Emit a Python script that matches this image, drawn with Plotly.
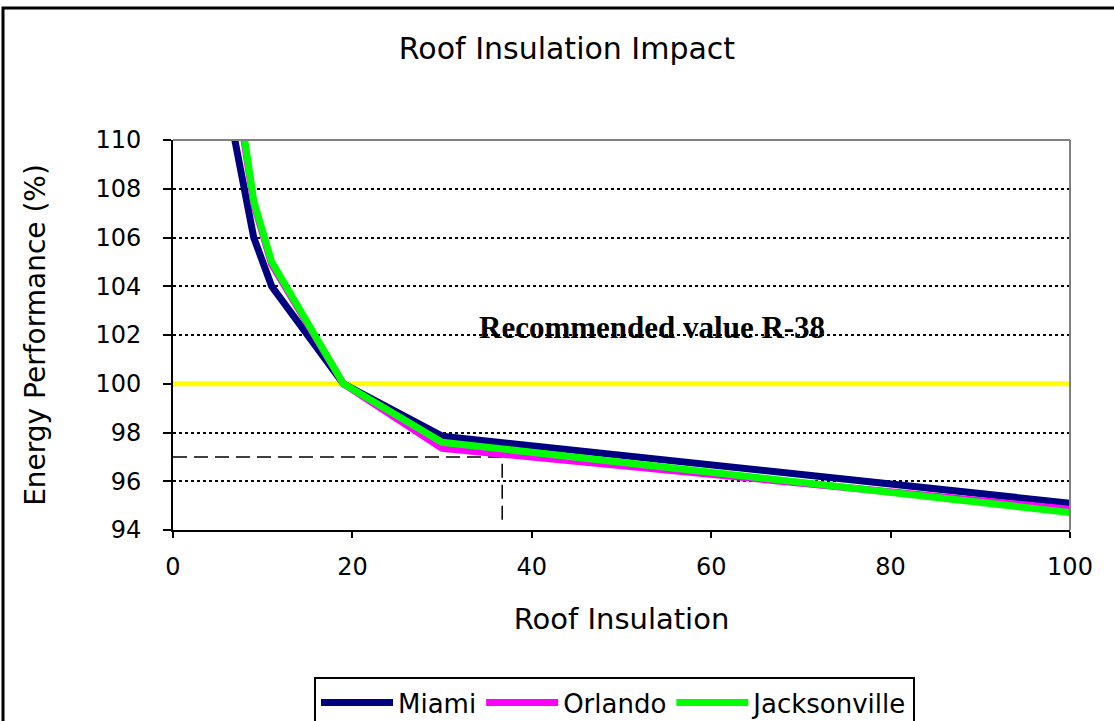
import plotly.graph_objects as go

# ---- data ----
r_values = [5, 9, 11, 19, 30, 100]
miami = [113.6, 106.0, 104.0, 100.0, 97.85, 95.1]
orlando = [117.0, 107.4, 104.9, 100.0, 97.35, 94.85]
jacksonville = [117.5, 107.5, 105.0, 100.0, 97.6, 94.72]
baseline_value = 100
ref_x = 36.7
ref_y = 97
ref_y_bottom = 94.4
x_ticks = [0, 20, 40, 60, 80, 100]
y_ticks = [94, 96, 98, 100, 102, 104, 106, 108, 110]

SANS = "DejaVu Sans"

fig = go.Figure()

# yellow baseline at 100
fig.add_trace(go.Scatter(x=[0, 100], y=[baseline_value, baseline_value], mode="lines",
                         line=dict(color="#FFFF00", width=5), showlegend=False,
                         hoverinfo="skip"))
# dashed reference lines
fig.add_trace(go.Scatter(x=[0, ref_x, ref_x], y=[ref_y, ref_y, ref_y_bottom], mode="lines",
                         line=dict(color="black", width=1.5, dash="14px,7px"), showlegend=False,
                         hoverinfo="skip"))

series = [("Miami", miami, "#000080"),
          ("Orlando", orlando, "#FF00FF"),
          ("Jacksonville", jacksonville, "#00FF00")]
for name, vals, col in series:
    fig.add_trace(go.Scatter(x=r_values, y=vals, mode="lines", name=name,
                             line=dict(color=col, width=7)))

fig.add_annotation(x=53.4, y=102.3, xref="x", yref="y", text="<b>Recommended value R-38</b>",
                   showarrow=False, font=dict(family="Liberation Serif", size=31, color="black"),
                   xanchor="center", yanchor="middle")

W, H = 1114, 721
L, R, T, B = 173, 44, 140, 191
pw, ph = W - L - R, H - T - B

def px2paper_x(px):
    return (px - L) / pw

def px2paper_y(py):
    return (H - B - py) / ph

shapes = [
    # top and right plot border in gray
    dict(type="line", xref="paper", yref="paper", x0=0, x1=1, y0=1, y1=1,
         line=dict(color="#808080", width=2)),
    dict(type="line", xref="paper", yref="paper", x0=1, x1=1, y0=0, y1=1,
         line=dict(color="#808080", width=2)),
    # outer chart frame
    dict(type="rect", xref="paper", yref="paper",
         x0=px2paper_x(3), x1=px2paper_x(1130), y0=px2paper_y(740), y1=px2paper_y(8),
         line=dict(color="black", width=3), fillcolor="rgba(0,0,0,0)"),
]

fig.update_layout(
    width=W, height=H,
    margin=dict(l=L, r=R, t=T, b=B, autoexpand=False),
    paper_bgcolor="white", plot_bgcolor="white",
    font=dict(family=SANS, color="black"),
    title=dict(text="Roof Insulation Impact", x=567 / W, xanchor="center", xref="container",
               y=1 - 48 / H, yanchor="middle", yref="container",
               font=dict(family=SANS, size=30, color="black")),
    showlegend=True,
    legend=dict(orientation="h", x=px2paper_x(314), y=px2paper_y(677), xanchor="left",
                yanchor="top", bordercolor="black", borderwidth=2, bgcolor="white",
                font=dict(family=SANS, size=26, color="black"), itemwidth=72,
                tracegroupgap=0),
    shapes=shapes,
)

fig.update_xaxes(range=[0, 100], tickvals=x_ticks, ticktext=[str(v) for v in x_ticks],
                 showgrid=False, zeroline=False, showline=True, linecolor="black", linewidth=2,
                 ticks="outside", ticklen=6, tickwidth=2, tickcolor="black",
                 ticklabelstandoff=8,
                 tickfont=dict(family=SANS, size=24, color="black"),
                 title=dict(text="Roof Insulation", font=dict(family=SANS, size=29, color="black"),
                            standoff=29))
fig.update_yaxes(range=[94, 110], tickvals=y_ticks, ticktext=[str(v) for v in y_ticks],
                 showgrid=True, gridcolor="black", griddash="dot", gridwidth=1.5,
                 zeroline=False, showline=True, linecolor="black", linewidth=2,
                 ticks="outside", ticklen=8, tickwidth=2, tickcolor="black",
                 ticklabelstandoff=17,
                 tickfont=dict(family=SANS, size=24, color="black"),
                 title=dict(text="Energy Performance (%)",
                            font=dict(family=SANS, size=28, color="black"), standoff=42))

fig.write_html("out.html", config={"displayModeBar": False},
               post_script="document.body.style.margin='0';")
